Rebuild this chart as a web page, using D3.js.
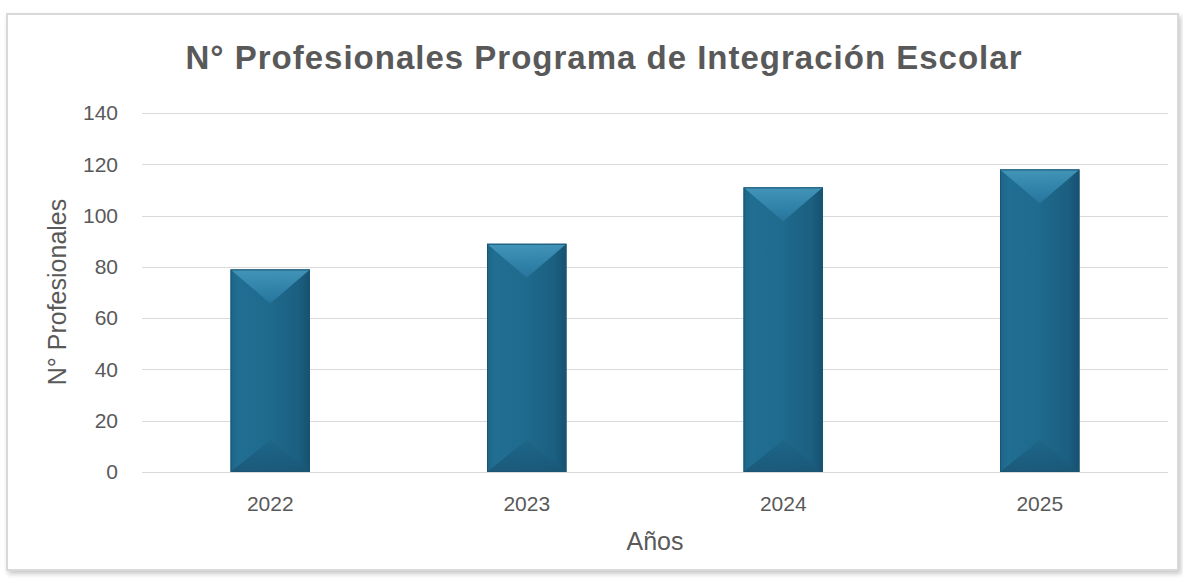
<!DOCTYPE html>
<html>
<head>
<meta charset="utf-8">
<script src="https://cdn.jsdelivr.net/npm/d3@7"></script>
<style>
  html, body { margin: 0; padding: 0; background: #ffffff; }
  svg { display: block; }
  text { font-family: "Liberation Sans", Arial, sans-serif; }
</style>
</head>
<body>
<svg id="chart" width="1183" height="581"></svg>
<script>
// Number of PIE professionals per year
const years = ["2022", "2023", "2024", "2025"];
const professionals = [79, 89, 111, 118];
const yTicks = [0, 20, 40, 60, 80, 100, 120, 140];

const svg = d3.select("#chart");
const plot = { left: 142, right: 1168, top: 113, bottom: 472 };
const textColor = "#595959";

const defs = svg.append("defs");

// soft shadow for the chart frame
const shadow = defs.append("filter").attr("id", "frameShadow")
  .attr("x", "-5%").attr("y", "-5%").attr("width", "110%").attr("height", "110%");
shadow.append("feGaussianBlur").attr("in", "SourceAlpha").attr("stdDeviation", 2.5);
shadow.append("feOffset").attr("dx", 2).attr("dy", 3).attr("result", "off");
shadow.append("feComponentTransfer").append("feFuncA").attr("type", "linear").attr("slope", 0.22);
const merge = shadow.append("feMerge");
merge.append("feMergeNode");
merge.append("feMergeNode").attr("in", "SourceGraphic");

// body gradient of the bevelled bars
const body = defs.append("linearGradient").attr("id", "barBody")
  .attr("x1", 0).attr("x2", 1).attr("y1", 0).attr("y2", 0);
body.append("stop").attr("offset", "0%").attr("stop-color", "#1d6586");
body.append("stop").attr("offset", "10%").attr("stop-color", "#216e93");
body.append("stop").attr("offset", "45%").attr("stop-color", "#1f6b8e");
body.append("stop").attr("offset", "85%").attr("stop-color", "#1b5f81");
body.append("stop").attr("offset", "100%").attr("stop-color", "#175170");

const topG = defs.append("linearGradient").attr("id", "barTop")
  .attr("x1", 0).attr("x2", 0).attr("y1", 0).attr("y2", 1);
topG.append("stop").attr("offset", "0%").attr("stop-color", "#469abd");
topG.append("stop").attr("offset", "100%").attr("stop-color", "#2676a0");

const botG = defs.append("linearGradient").attr("id", "barBottom")
  .attr("x1", 0).attr("x2", 0).attr("y1", 0).attr("y2", 1);
botG.append("stop").attr("offset", "0%").attr("stop-color", "#1d6587");
botG.append("stop").attr("offset", "100%").attr("stop-color", "#1a5676");

// chart frame
svg.append("rect")
  .attr("x", 7).attr("y", 14).attr("width", 1171).attr("height", 556)
  .attr("fill", "#ffffff").attr("stroke", "#d9d9d9").attr("stroke-width", 2)
  .attr("filter", "url(#frameShadow)");

const x = d3.scaleBand().domain(years)
  .range([plot.left, plot.right])
  .paddingInner(0.69).paddingOuter(0.345);

const y = d3.scaleLinear().domain([0, 140]).range([plot.bottom, plot.top]);

// gridlines
svg.append("g")
  .selectAll("line").data(yTicks).join("line")
  .attr("x1", plot.left).attr("x2", plot.right)
  .attr("y1", d => Math.round(y(d)) + 0.5).attr("y2", d => Math.round(y(d)) + 0.5)
  .attr("stroke", "#d9d9d9").attr("stroke-width", 1.2);

// y axis labels
const yAxis = svg.append("g").attr("transform", `translate(${plot.left},0)`)
  .call(d3.axisLeft(y).tickValues(yTicks).tickSize(0).tickPadding(24));
yAxis.select(".domain").remove();
yAxis.selectAll("text")
  .attr("fill", textColor)
  .style("font-family", "'Liberation Sans', Arial, sans-serif")
  .style("font-size", "21px");

// x axis labels
const xAxis = svg.append("g").attr("transform", `translate(0,${plot.bottom})`)
  .call(d3.axisBottom(x).tickSize(0).tickPadding(24));
xAxis.select(".domain").remove();
xAxis.selectAll("text")
  .attr("fill", textColor)
  .style("font-family", "'Liberation Sans', Arial, sans-serif")
  .style("font-size", "21px");

// bevelled bars
const bars = svg.append("g").selectAll("g")
  .data(years.map((k, i) => ({ k, v: professionals[i] })))
  .join("g");

bars.each(function (d) {
  const g = d3.select(this);
  const x0 = x(d.k), w = x.bandwidth();
  const y0 = y(d.v), y1 = y(0);
  const bevT = 34, bevB = 32;
  g.append("rect").attr("x", x0).attr("y", y0).attr("width", w).attr("height", y1 - y0)
    .attr("fill", "url(#barBody)");
  g.append("path")
    .attr("d", `M${x0},${y0}L${x0 + w},${y0}L${x0 + w / 2},${y0 + bevT}Z`)
    .attr("fill", "url(#barTop)").attr("opacity", 0.9);
  g.append("path")
    .attr("d", `M${x0},${y1}L${x0 + w},${y1}L${x0 + w / 2},${y1 - bevB}Z`)
    .attr("fill", "url(#barBottom)").attr("opacity", 0.85);
  g.append("rect").attr("x", x0 + 0.5).attr("y", y0 + 0.5).attr("width", w - 1).attr("height", y1 - y0 - 1)
    .attr("fill", "none").attr("stroke", "#1b5573").attr("stroke-width", 1);
});

// title
svg.append("text")
  .attr("x", 604).attr("y", 69).attr("text-anchor", "middle")
  .attr("fill", textColor)
  .style("font-weight", "bold").style("font-size", "33px")
  .style("letter-spacing", "1px")
  .text("N° Profesionales Programa de Integración Escolar");

// axis titles
svg.append("text")
  .attr("transform", "translate(66,292) rotate(-90)")
  .attr("text-anchor", "middle").attr("fill", textColor)
  .style("font-size", "25px")
  .text("N° Profesionales");

svg.append("text")
  .attr("x", 655).attr("y", 550).attr("text-anchor", "middle").attr("fill", textColor)
  .style("font-size", "25px")
  .text("Años");
</script>
</body>
</html>
